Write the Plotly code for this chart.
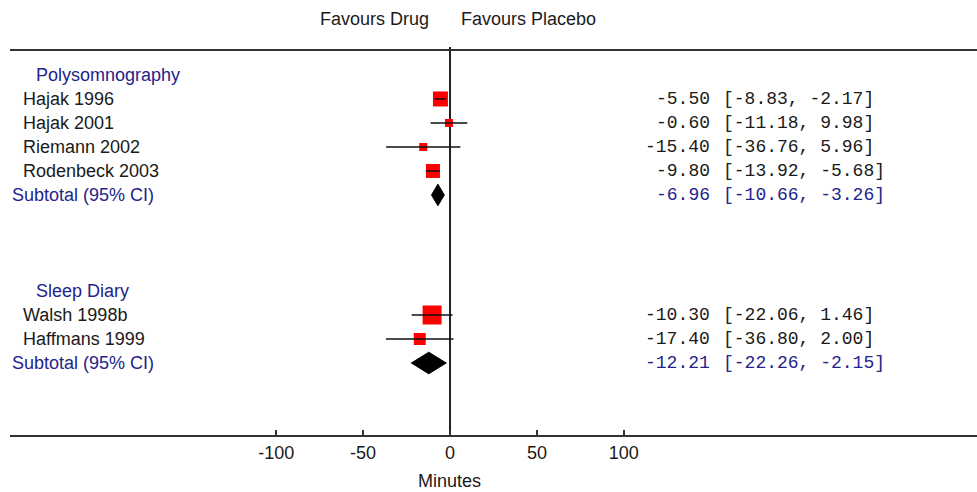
import plotly.graph_objects as go

# ---- data ----
group_names = ["Polysomnography", "Sleep Diary"]
studies_poly = ["Hajak 1996", "Hajak 2001", "Riemann 2002", "Rodenbeck 2003"]
est_poly = [-5.50, -0.60, -15.40, -9.80]
lo_poly = [-8.83, -11.18, -36.76, -13.92]
hi_poly = [-2.17, 9.98, 5.96, -5.68]
sub_poly = [-6.96, -10.66, -3.26]

studies_diary = ["Walsh 1998b", "Haffmans 1999"]
est_diary = [-10.30, -17.40]
lo_diary = [-22.06, -36.80]
hi_diary = [1.46, 2.00]
sub_diary = [-12.21, -22.26, -2.15]

tick_vals = [-100, -50, 0, 50, 100]
x_title = "Minutes"
left_label = "Favours Drug"
right_label = "Favours Placebo"
subtotal_label = "Subtotal (95% CI)"

# ---- styles / layout (not data) ----
rows_poly = [1, 2, 3, 4]
rows_diary = [10, 11]
row_head = [0, 9]
row_sub = [5, 12]
size_poly = [15, 8, 8, 14]
size_diary = [19, 12]

BLUE = "#23238c"
TXT = "#1a1a1a"
FONT = "Liberation Sans, Arial, sans-serif"
MONO = "Liberation Mono, Courier New, monospace"
FS = 18

OFF = 0  # page body margin removed via post_script
SW, SH = 977, 492
W, H = SW - OFF, SH - OFF
# plot area in screen pixels: x 10..977, y 50..435
ML, MR, MT, MB = 10 - OFF, 0, 50 - OFF, SH - 435
PW = W - ML - MR
PH = H - MT - MB


def px2paper_x(px):
    return (px - OFF - ML) / PW


def px2paper_y(py):
    return (H - MB - (py - OFF)) / PH


fig = go.Figure()

# squares
fig.add_trace(go.Scatter(
    x=est_poly + est_diary, y=rows_poly + rows_diary, mode="markers",
    marker=dict(symbol="square", size=size_poly + size_diary, color="#ff0000",
                opacity=1, line=dict(width=0)),
    hoverinfo="skip", showlegend=False))

# CI lines
lx, ly = [], []
for lo, hi, r in zip(lo_poly + lo_diary, hi_poly + hi_diary, rows_poly + rows_diary):
    lx += [lo, hi, None]
    ly += [r, r, None]
fig.add_trace(go.Scatter(x=lx, y=ly, mode="lines",
                         line=dict(color="#111111", width=1.5),
                         hoverinfo="skip", showlegend=False))

# diamonds
hh = 0.45
for sub, r in zip([sub_poly, sub_diary], row_sub):
    e, lo, hi = sub
    fig.add_trace(go.Scatter(
        x=[lo, e, hi, e, lo], y=[r, r - hh, r, r + hh, r],
        mode="lines", fill="toself", fillcolor="#000000",
        line=dict(color="#000000", width=1),
        hoverinfo="skip", showlegend=False))

ann = []


def add_text(text, x, y, xanchor="left", color=TXT, font=FONT, xref="paper", yref="y"):
    ann.append(dict(text=text, x=x, y=y, xref=xref, yref=yref, xanchor=xanchor,
                    yanchor="middle", showarrow=False,
                    font=dict(family=font, size=FS, color=color)))


# group headers
for name, r in zip(group_names, row_head):
    add_text(name, px2paper_x(34), r, color=BLUE)

# study labels and numbers
all_studies = studies_poly + studies_diary
all_est = est_poly + est_diary
all_lo = lo_poly + lo_diary
all_hi = hi_poly + hi_diary
all_rows = rows_poly + rows_diary
for s, e, lo, hi, r in zip(all_studies, all_est, all_lo, all_hi, all_rows):
    add_text(s, px2paper_x(21), r)
    add_text(f"{e:.2f}", px2paper_x(712), r, xanchor="right", font=MONO)
    add_text(f"[{lo:.2f}, {hi:.2f}]", px2paper_x(721), r, font=MONO)

# subtotals
for sub, r in zip([sub_poly, sub_diary], row_sub):
    e, lo, hi = sub
    add_text(subtotal_label, px2paper_x(10), r, color=BLUE)
    add_text(f"{e:.2f}", px2paper_x(712), r, xanchor="right", color=BLUE, font=MONO)
    add_text(f"[{lo:.2f}, {hi:.2f}]", px2paper_x(721), r, color=BLUE, font=MONO)

# top labels
add_text(left_label, px2paper_x(431), px2paper_y(19), xanchor="right", yref="paper")
add_text(right_label, px2paper_x(459), px2paper_y(19), xanchor="left", yref="paper")
# axis title
add_text(x_title, px2paper_x(449), px2paper_y(481), xanchor="center", yref="paper")

zero_px = 450
scale = 1.7385
x_range = [(10 - zero_px) / scale, (SW - zero_px) / scale]

fig.update_layout(
    width=W, height=H,
    margin=dict(l=ML, r=MR, t=MT, b=MB, pad=0),
    paper_bgcolor="white", plot_bgcolor="white",
    annotations=ann,
    xaxis=dict(range=x_range, tickvals=tick_vals, ticktext=[str(v) for v in tick_vals],
               showgrid=False, zeroline=False, showline=True, linecolor="#333333",
               linewidth=2, ticks="inside", ticklen=5, tickwidth=1.5, tickcolor="#333333",
               tickfont=dict(family=FONT, size=FS, color=TXT), fixedrange=True),
    yaxis=dict(range=[15, -1.04], showgrid=False, zeroline=False, showline=False,
               showticklabels=False, ticks="", fixedrange=True),
    shapes=[
        dict(type="line", xref="paper", yref="paper", x0=0, x1=1, y0=1, y1=1,
             line=dict(color="#333333", width=2)),
        dict(type="line", xref="x", yref="paper", x0=0, x1=0, y0=0, y1=1.008,
             line=dict(color="#222222", width=2), layer="below"),
    ],
)

fig.write_html("out.html",
               config={"displayModeBar": False, "staticPlot": True},
               post_script="document.body.style.margin='0';document.body.style.overflow='hidden';")
